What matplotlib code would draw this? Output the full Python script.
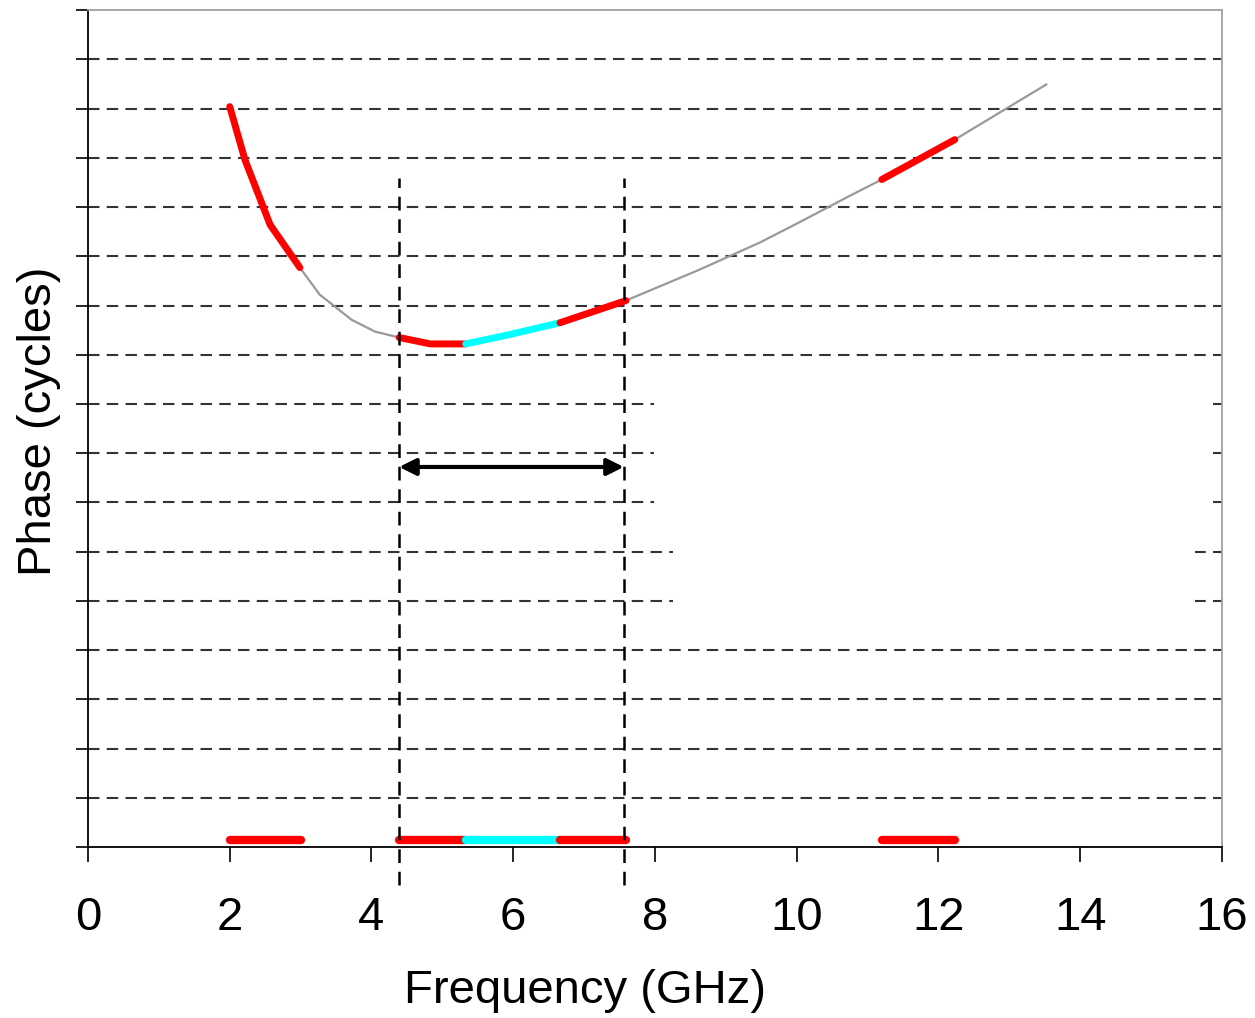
import matplotlib
matplotlib.use("Agg")
import matplotlib.pyplot as plt
from matplotlib.patches import Rectangle
import numpy as np

plt.rcParams['font.family'] = ['Liberation Sans', 'DejaVu Sans']

# Phase curve (GHz, cycles)
freq = [2.0, 2.215, 2.57, 2.99, 3.27, 3.72, 4.05, 4.39, 4.83, 5.33, 5.95, 6.66,
        7.59, 8.63, 9.48, 10.05, 10.75, 11.2, 12.23, 13.52]
phase = [15.04, 13.96, 12.64, 11.77, 11.22, 10.71, 10.47, 10.35, 10.22, 10.22,
         10.41, 10.65, 11.10, 11.73, 12.28, 12.70, 13.23, 13.56, 14.37, 15.49]

# Highlighted bands (start, end) and colours
band_start = [2.0, 4.39, 5.33, 6.66, 11.2]
band_end = [3.0, 5.33, 6.66, 7.59, 12.23]
band_color = ['red', 'red', 'cyan', 'red', 'red']

# Bandwidth markers
marker_lo = 4.39
marker_hi = 7.56
arrow_y = 7.72

xticks = [0, 2, 4, 6, 8, 10, 12, 14, 16]
yticks = list(range(0, 18))

fig = plt.figure(figsize=(12.55, 10.18), dpi=100)
ax = fig.add_axes([0.0701, 0.168, 0.9036, 0.822])
ax.set_xlim(0, 16)
ax.set_ylim(0, 17)

# grid lines
for y in yticks[1:-1]:
    ax.axhline(y, color='#333333', lw=1.5, ls=(0, (5.5, 3.5)), zorder=1)

# blank areas (removed legend)
ax.add_patch(Rectangle((7.98, 6.5), 15.83 - 7.98, 3.0, facecolor='white',
                       edgecolor='none', zorder=2))
ax.add_patch(Rectangle((8.25, 4.5), 15.62 - 8.25, 2.0, facecolor='white',
                       edgecolor='none', zorder=2))

f = np.array(freq)
p = np.array(phase)
ax.plot(f, p, color='#999999', lw=1.6, zorder=3)

for s, e, c in zip(band_start, band_end, band_color):
    m = (f >= s - 1e-9) & (f <= e + 1e-9)
    ax.plot(f[m], p[m], color=c, lw=5, solid_capstyle='round', zorder=4)
    ax.plot([s, e], [0.14, 0.14], color=c, lw=6, solid_capstyle='round',
            zorder=4)

for xv in (marker_lo, marker_hi):
    ax.plot([xv, xv], [-0.77, 13.6], color='black', lw=1.8,
            ls=(0, (5.5, 3.5)), clip_on=False, zorder=5)

ax.annotate('', xy=(marker_lo, arrow_y), xytext=(marker_hi, arrow_y),
            arrowprops=dict(arrowstyle='<|-|>', color='black', lw=3,
                            mutation_scale=25, shrinkA=0, shrinkB=0),
            zorder=6)

ax.set_xticks(xticks)
ax.set_xticklabels([str(t) for t in xticks], fontsize=34)
ax.set_yticks(yticks)
ax.set_yticklabels([])
ax.tick_params(axis='x', length=11, width=1.2, direction='out', pad=24)
ax.tick_params(axis='y', length=8.5, width=1.2, direction='out')

ax.spines['top'].set_color('#a0a0a0')
ax.spines['right'].set_color('#a0a0a0')
for s in ax.spines.values():
    s.set_linewidth(1.3)

ax.set_xlabel('Frequency (GHz)', fontsize=34, labelpad=21)
ax.xaxis.label.set_x(0.438)
ax.set_ylabel('Phase (cycles)', fontsize=34, labelpad=7.5)
ax.yaxis.label.set_y(0.509)

fig.savefig('out.png', dpi=100)
